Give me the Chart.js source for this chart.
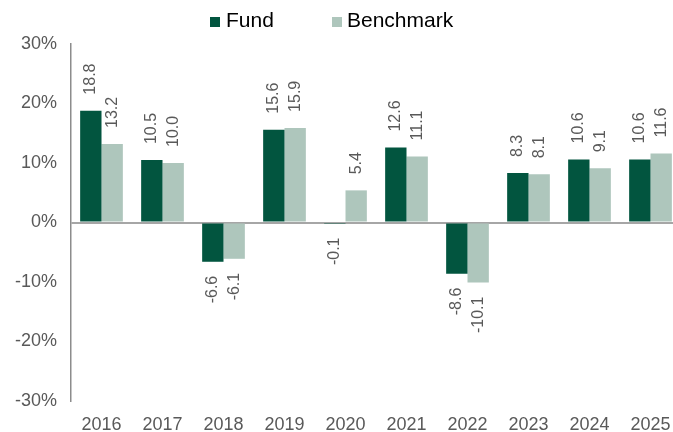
<!DOCTYPE html>
<html><head><meta charset="utf-8">
<script src="https://cdn.jsdelivr.net/npm/chart.js@4/dist/chart.umd.min.js"></script>
<style>
html,body{margin:0;padding:0;overflow:hidden;background:#fff;width:673px;height:432px}
#wrap{width:681px;height:432px;position:relative}
</style></head><body>
<div id="wrap"><canvas id="c" width="681" height="432"></canvas></div>
<script>
const categories = ["2016","2017","2018","2019","2020","2021","2022","2023","2024","2025"];
const fundValues = [18.8, 10.5, -6.6, 15.6, -0.1, 12.6, -8.6, 8.3, 10.6, 10.6];
const benchmarkValues = [13.2, 10.0, -6.1, 15.9, 5.4, 11.1, -10.1, 8.1, 9.1, 11.6];
const seriesNames = ["Fund", "Benchmark"];
const seriesColors = ["#02553F", "#AEC6BC"];
const yTicks = [-30, -20, -10, 0, 10, 20, 30];
const FONT = '"Liberation Sans", Arial, sans-serif';

const labelPlugin = {
  id: 'barLabels',
  afterDatasetsDraw(chart) {
    const ctx = chart.ctx;
    ctx.save();
    ctx.font = '16px ' + FONT;
    ctx.fillStyle = '#595959';
    ctx.textBaseline = 'middle';
    chart.data.datasets.forEach((ds, di) => {
      const meta = chart.getDatasetMeta(di);
      meta.data.forEach((bar, i) => {
        const v = ds.data[i];
        const txt = v.toFixed(1);
        ctx.save();
        if (v >= 0) {
          ctx.translate(bar.x, bar.y - 16);
          ctx.rotate(-Math.PI / 2);
          ctx.textAlign = 'left';
        } else {
          ctx.translate(bar.x, Math.max(bar.y, bar.base) + 14);
          ctx.rotate(-Math.PI / 2);
          ctx.textAlign = 'right';
        }
        ctx.fillText(txt, 0, 0);
        ctx.restore();
      });
    });
    ctx.restore();
  }
};

const legendPlugin = {
  id: 'customLegend',
  afterDraw(chart) {
    const ctx = chart.ctx;
    const items = [{ bx: 210, tx: 226 }, { bx: 332, tx: 347 }];
    ctx.save();
    ctx.font = '21px ' + FONT;
    ctx.textBaseline = 'middle';
    ctx.textAlign = 'left';
    chart.data.datasets.forEach((ds, i) => {
      const it = items[i];
      ctx.fillStyle = ds.backgroundColor;
      ctx.fillRect(it.bx, 17, 10, 10);
      ctx.fillStyle = '#000';
      ctx.fillText(ds.label, it.tx, 21);
    });
    ctx.restore();
  }
};

new Chart(document.getElementById('c'), {
  type: 'bar',
  data: {
    labels: categories,
    datasets: [
      { label: seriesNames[0], data: fundValues, backgroundColor: seriesColors[0] },
      { label: seriesNames[1], data: benchmarkValues, backgroundColor: seriesColors[1] }
    ]
  },
  options: {
    responsive: false,
    animation: false,
    devicePixelRatio: 1,
    layout: { padding: { left: 0, right: 0, top: 44, bottom: 0 } },
    datasets: { bar: { categoryPercentage: 0.7, barPercentage: 1.0 } },
    plugins: {
      tooltip: { enabled: false },
      legend: { display: false }
    },
    scales: {
      x: {
        grid: { display: false },
        border: { display: false },
        ticks: { color: '#595959', font: { family: FONT, size: 18 }, padding: 5, maxRotation: 0 },
        afterFit(s) { s.height = 31; }
      },
      y: {
        min: -30, max: 30,
        afterBuildTicks(s) { s.ticks = yTicks.map(v => ({ value: v })); },
        grid: {
          drawTicks: false,
          color: (c) => (c.tick && c.tick.value === 0) ? '#A6A6A6' : 'rgba(0,0,0,0)',
          lineWidth: 2
        },
        border: { display: true, color: '#8C8C8C', width: 1.5 },
        ticks: {
          color: '#595959',
          font: { family: FONT, size: 18 },
          padding: 14,
          callback: (v) => v + '%'
        },
        afterFit(s) { s.width = 71; }
      }
    }
  },
  plugins: [labelPlugin, legendPlugin]
});
</script>
</body></html>
